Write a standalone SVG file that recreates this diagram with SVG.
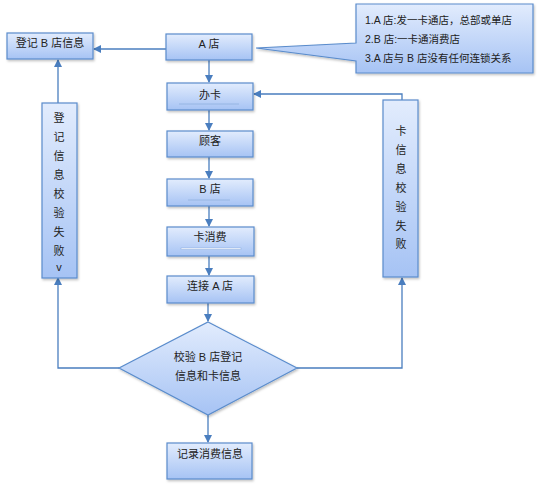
<svg xmlns="http://www.w3.org/2000/svg" width="542" height="488" viewBox="0 0 542 488">
<defs>
<linearGradient id="g" x1="0" y1="0" x2="0" y2="1">
<stop offset="0" stop-color="#e2ecfd"/>
<stop offset="1" stop-color="#a6c3f4"/>
</linearGradient>
<filter id="sh" x="-20%" y="-20%" width="140%" height="140%">
<feDropShadow dx="1" dy="1.5" stdDeviation="1" flood-color="#000" flood-opacity="0.25"/>
</filter>
<marker id="ah" markerWidth="8" markerHeight="8" refX="7" refY="4" orient="auto" markerUnits="userSpaceOnUse">
<path d="M0,0 L8,4 L0,8 Z" fill="#4a7ebf"/>
</marker>
</defs>
<style>
.box{fill:url(#g);stroke:#5a8ccc;stroke-width:1.2;filter:url(#sh)}
.t{font-family:"Liberation Sans","Noto Sans CJK SC",sans-serif;font-size:11px;fill:#222;text-anchor:middle}
.tl{font-family:"Liberation Sans","Noto Sans CJK SC",sans-serif;font-size:10.5px;fill:#222}
.c{fill:none;stroke:#4a7ebf;stroke-width:1.3}
.ul{stroke:#8fb0e0;stroke-width:0.8}
</style>
<g id="connectors">
<line class="c" x1="166" y1="49" x2="94" y2="49" marker-end="url(#ah)"/>
<line class="c" x1="209" y1="60" x2="209" y2="82" marker-end="url(#ah)"/>
<line class="c" x1="209" y1="110" x2="209" y2="130" marker-end="url(#ah)"/>
<line class="c" x1="209" y1="157" x2="209" y2="178" marker-end="url(#ah)"/>
<line class="c" x1="209" y1="206" x2="209" y2="226" marker-end="url(#ah)"/>
<line class="c" x1="209" y1="256" x2="209" y2="275" marker-end="url(#ah)"/>
<line class="c" x1="208" y1="303" x2="208" y2="321" marker-end="url(#ah)"/>
<line class="c" x1="208" y1="415" x2="208" y2="442" marker-end="url(#ah)"/>
<polyline class="c" points="119,368 58,368 58,278" marker-end="url(#ah)"/>
<line class="c" x1="58" y1="103" x2="58" y2="60" marker-end="url(#ah)"/>
<polyline class="c" points="297,368 402,368 402,278" marker-end="url(#ah)"/>
<polyline class="c" points="402,100 402,94 254,94" marker-end="url(#ah)"/>
</g>
<g id="callout">
<path d="M356,4 H533 V73 H356 V61 L256,48 L356,43 Z" class="box"/>
<text class="tl" x="365" y="24">1.A 店:发一卡通店，总部或单店</text>
<text class="tl" x="365" y="43">2.B 店:一卡通消费店</text>
<text class="tl" x="365" y="62">3.A 店与 B 店没有任何连锁关系</text>
</g>
<g id="regB">
<rect class="box" x="7" y="33" width="86" height="26"/>
<text class="t" x="50" y="47">登记 B 店信息</text>
</g>
<g id="shopA">
<rect class="box" x="166" y="34" width="86" height="26"/>
<text class="t" x="209" y="48">A 店</text>
</g>
<g id="card">
<rect class="box" x="167" y="83" width="86" height="27"/>
<line class="ul" x1="179" y1="104" x2="239" y2="104"/>
<text class="t" x="210" y="99">办卡</text>
</g>
<g id="customer">
<rect class="box" x="167" y="131" width="86" height="26"/>
<text class="t" x="210" y="145">顾客</text>
</g>
<g id="shopB">
<rect class="box" x="167" y="179" width="86" height="27"/>
<line class="ul" x1="188" y1="200" x2="230" y2="200"/>
<text class="t" x="210" y="193">B 店</text>
</g>
<g id="consume">
<rect class="box" x="167" y="227" width="87" height="29"/>
<rect x="181" y="248" width="60" height="1.6" fill="#fff" stroke="#7fa3dc" stroke-width="0.5"/>
<text class="t" x="210" y="241">卡消费</text>
</g>
<g id="connectA">
<rect class="box" x="167" y="276" width="87" height="27"/>
<text class="t" x="210" y="290">连接 A 店</text>
</g>
<g id="check">
<polygon class="box" points="208,322 297,368 208,415 119,368"/>
<text class="t" x="208" y="361">校验 B 店登记</text>
<text class="t" x="208" y="380">信息和卡信息</text>
</g>
<g id="record">
<rect class="box" x="167" y="443" width="85" height="36"/>
<text class="t" x="210" y="458">记录消费信息</text>
</g>
<g id="regFail">
<rect class="box" x="42" y="103" width="35" height="175"/>
<text class="t" x="59" y="122">登</text>
<text class="t" x="59" y="141">记</text>
<text class="t" x="59" y="160">信</text>
<text class="t" x="59" y="179">息</text>
<text class="t" x="59" y="198">校</text>
<text class="t" x="59" y="217">验</text>
<text class="t" x="59" y="236">失</text>
<text class="t" x="59" y="255">败</text>
<text class="t" x="59" y="271">v</text>
</g>
<g id="cardFail">
<rect class="box" x="383" y="100" width="35" height="177"/>
<text class="t" x="401" y="135">卡</text>
<text class="t" x="401" y="154">信</text>
<text class="t" x="401" y="173">息</text>
<text class="t" x="401" y="192">校</text>
<text class="t" x="401" y="211">验</text>
<text class="t" x="401" y="230">失</text>
<text class="t" x="401" y="248">败</text>
</g>
</svg>
